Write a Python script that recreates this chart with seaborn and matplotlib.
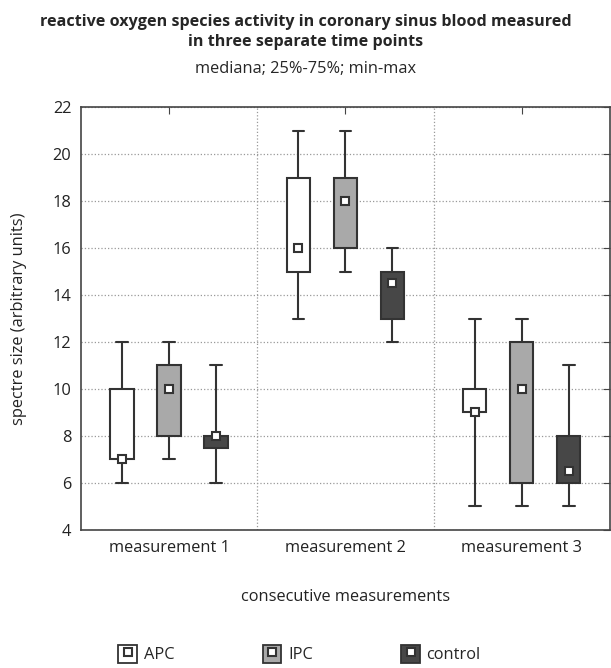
import matplotlib
matplotlib.use('Agg')
import numpy as np
import pandas as pd
import seaborn as sns
from matplotlib import pyplot as plt
from matplotlib.patches import Patch
from matplotlib.lines import Line2D

measurements = ['measurement 1', 'measurement 2', 'measurement 3']
groups = ['APC', 'IPC', 'control']

# min, q1, median, q3, max per measurement
apc_stats = [[6, 7, 7, 10, 12], [13, 15, 16, 19, 21], [5, 9, 9, 10, 13]]
ipc_stats = [[7, 8, 10, 11, 12], [15, 16, 18, 19, 21], [5, 6, 10, 12, 13]]
control_stats = [[6, 7.5, 8, 8, 11], [12, 13, 14.5, 15, 16], [5, 6, 6.5, 8, 11]]

colors = ['#ffffff', '#a9a9a9', '#474747']
edge = '#333333'
FS = 11.8


def build_frame():
    # 5 points per box -> quartiles fall exactly on q1/median/q3,
    # and whis=(0, 100) puts the whiskers on min/max
    rows = []
    for grp, stats in zip(groups, [apc_stats, ipc_stats, control_stats]):
        for meas, vals in zip(measurements, stats):
            for v in vals:
                rows.append({'measurement': meas, 'group': grp, 'value': v})
    return pd.DataFrame(rows)


df = build_frame()

sns.set_style('white')
plt.rcParams['font.family'] = ['Open Sans', 'DejaVu Sans']

fig = plt.figure(figsize=(6.11, 6.68), dpi=100)
ax = fig.add_axes([0.1326, 0.2066, 0.8655, 0.6332])

sns.boxplot(data=df, x='measurement', y='value', hue='group',
            order=measurements, hue_order=groups, palette=colors,
            saturation=1, whis=(0, 100), width=0.8, gap=0.5,
            linecolor=edge, linewidth=1.5, legend=False,
            medianprops=dict(visible=False), ax=ax)

n_lines = len(ax.lines)
sns.pointplot(data=df, x='measurement', y='value', hue='group',
              order=measurements, hue_order=groups, estimator='median',
              errorbar=None, dodge=0.8 * 2 / 3, linestyle='none',
              marker='s', markersize=6, palette=['white'] * 3,
              legend=False, ax=ax)
for ln in ax.lines[n_lines:]:
    ln.set_markerfacecolor('white')
    ln.set_markeredgecolor(edge)
    ln.set_markeredgewidth(1.5)
    ln.set_zorder(5)

ax.set_ylim(4, 22)
ax.set_yticks(np.arange(4, 23, 2))
ax.set_xlim(-0.5, 2.5)
ax.grid(axis='y', linestyle=':', color='#999999', linewidth=0.9)
for xv in (0.5, 1.5):
    ax.axvline(xv, linestyle=':', color='#999999', linewidth=0.9)
ax.set_axisbelow(True)

for sp in ax.spines.values():
    sp.set_color('#444444')
    sp.set_linewidth(1.2)
ax.tick_params(direction='in', length=5, color='#444444', top=True,
               right=True, labelsize=FS, labelcolor='#222222', pad=7)

ax.set_xlabel('consecutive measurements', fontsize=FS, labelpad=24,
              color='#222222')
ax.set_ylabel('spectre size (arbitrary units)', fontsize=FS,
              labelpad=18, color='#222222')

fig.text(0.5, 1 - 22 / 668, 'reactive oxygen species activity in coronary sinus blood measured',
         ha='center', va='center', fontsize=11.6, fontweight='bold')
fig.text(0.5, 1 - 42 / 668, 'in three separate time points',
         ha='center', va='center', fontsize=11.6, fontweight='bold')
fig.text(0.5, 1 - 69 / 668, 'mediana; 25%-75%; min-max',
         ha='center', va='center', fontsize=FS)

handles = []
for c in colors:
    handles.append((Patch(facecolor=c, edgecolor=edge, linewidth=1.3),
                    Line2D([], [], linestyle='none', marker='s', markersize=6,
                           markerfacecolor='white', markeredgecolor=edge,
                           markeredgewidth=1.5)))
fig.legend(handles, groups, ncol=3, loc='center',
           bbox_to_anchor=(0.49, 1 - 654 / 668), frameon=False,
           handlelength=1.15, handleheight=1.4, handletextpad=0.4,
           columnspacing=5.4, fontsize=FS)

fig.savefig('out.png', dpi=100)
